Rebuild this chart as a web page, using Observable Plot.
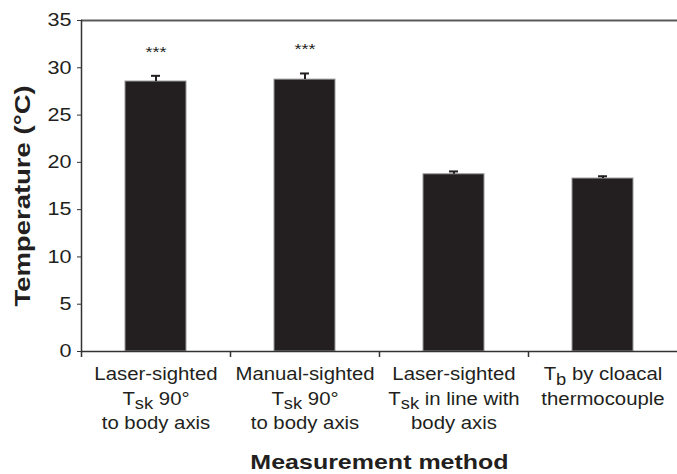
<!DOCTYPE html>
<html><head><meta charset="utf-8">
<script src="https://cdn.jsdelivr.net/npm/d3@7"></script>
<script src="https://cdn.jsdelivr.net/npm/@observablehq/plot@0.6"></script>
<style>body{margin:0;background:#fff}</style>
</head><body><div id="chart"></div>
<script>
const methods = [
  "Laser-sighted\nT_sk 90°\nto body axis",
  "Manual-sighted\nT_sk 90°\nto body axis",
  "Laser-sighted\nT_sk in line with\nbody axis",
  "T_b by cloacal\nthermocouple"
];
const means = [28.55, 28.75, 18.74, 18.29];
const sems = [0.6, 0.65, 0.3, 0.24];
const significance = ["***", "***", "", ""];
const yTicks = [0, 5, 10, 15, 20, 25, 30, 35];
const yLabel = "Temperature (°C)";
const xLabel = "Measurement method";

const data = methods.map((m, i) => ({method: m, mean: means[i], se: sems[i], sig: significance[i]}));
const ink = "#231f20";

const chart = Plot.plot({
  width: 677,
  height: 474,
  marginLeft: 81,
  marginRight: 0,
  marginTop: 20,
  marginBottom: 123,
  style: {fontFamily: "'Liberation Sans', Arial, sans-serif", color: ink, background: "#fff"},
  x: {domain: methods, paddingInner: 0.59, paddingOuter: 0.295, axis: null},
  y: {domain: [0, 35], axis: null},
  marks: [
    Plot.barY(data, {x: "method", y: "mean", fill: ink, stroke: "#9a9a9a", strokeWidth: 1}),
    Plot.ruleX(data, {x: "method", y1: "mean", y2: d => d.mean + d.se, stroke: ink, strokeWidth: 2}),
    Plot.tickY(data, {x: "method", y: d => d.mean + d.se, stroke: ink, strokeWidth: 2, insetLeft: 26, insetRight: 26}),
    Plot.text(data.filter(d => d.sig), {x: "method", y: d => d.mean + d.se, text: "sig", dy: -24, fontSize: 15, fill: ink, className: "stretch-120"}),
    Plot.ruleY([35], {stroke: "#5a5a5a", strokeWidth: 2}),
    Plot.ruleY([0], {stroke: "#333", strokeWidth: 1.5}),
    Plot.frame({anchor: "left", stroke: "#333", strokeWidth: 1.5}),
    Plot.ruleX(methods, {x: d => d, y1: 0, y2: 0, dx: -74.5, insetBottom: -6, stroke: "#333", strokeWidth: 1.5}),
    Plot.axisY(yTicks, {tickSize: 4, tickPadding: 6, fontSize: 18, label: null, stroke: "#333", fill: ink, className: "stretch-120"}),
    Plot.text(data, {x: "method", text: "method", frameAnchor: "bottom", lineAnchor: "top", dy: 11, fontSize: 18.5, lineHeight: 1.33, fill: ink, className: "stretch-110"}),
    Plot.text([yLabel], {text: d => d, frameAnchor: "left", textAnchor: "middle", rotate: -90, dx: -59, dy: 10, fontSize: 22, fontWeight: "bold", fill: ink, className: "stretch-125"}),
    Plot.text([xLabel], {text: d => d, frameAnchor: "bottom", dy: 117, fontSize: 21, fontWeight: "bold", fill: ink, className: "stretch-119"})
  ]
});

// render "T_sk" style subscripts
chart.querySelectorAll("text, tspan").forEach(el => {
  if (el.children.length) return;
  const s = el.textContent;
  if (!s.includes("_")) return;
  el.textContent = "";
  const re = /([A-Za-z])_([a-z]+)/g;
  let last = 0, m;
  while ((m = re.exec(s))) {
    el.appendChild(document.createTextNode(s.slice(last, m.index) + m[1]));
    const sub = document.createElementNS("http://www.w3.org/2000/svg", "tspan");
    sub.setAttribute("baseline-shift", "-25%");
    sub.setAttribute("font-size", "0.9em");
    sub.textContent = m[2];
    el.appendChild(sub);
    last = re.lastIndex;
  }
  el.appendChild(document.createTextNode(s.slice(last)));
});

// widen glyphs along the text direction, like the reference's typeface
chart.querySelectorAll("[class*='stretch-']").forEach(g => {
  const cls = [...g.classList].find(c => c.startsWith("stretch-"));
  const s = +cls.slice(8) / 100;
  g.querySelectorAll("text").forEach(t => {
    const tr = t.getAttribute("transform") || "";
    t.setAttribute("transform", (tr + ` scale(${s},1)`).trim());
  });
});

document.getElementById("chart").appendChild(chart);
</script>
</body></html>
